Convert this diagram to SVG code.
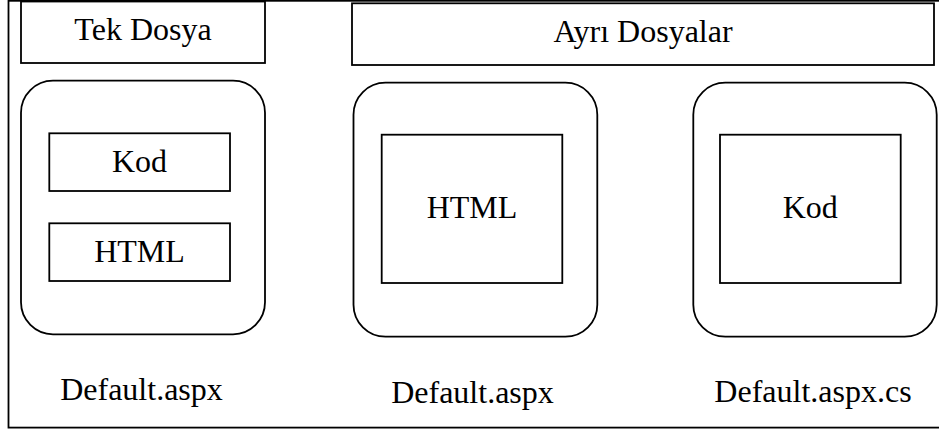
<svg xmlns="http://www.w3.org/2000/svg" width="939" height="432" viewBox="0 0 939 432">
  <style>
    .box { fill: #fff; stroke: #000; stroke-width: 1.8; }
    .frame { fill: none; stroke: #000; stroke-width: 1.8; }
    .lbl { font-family: "Liberation Serif", "Times New Roman", serif; font-size: 32px; fill: #000; text-anchor: middle; }
  </style>
  <rect width="939" height="432" fill="#fff"/>
  <!-- outer frame (right edge runs off the canvas) -->
  <rect class="frame" x="8.5" y="0.8" width="945" height="426.8"/>

  <g id="tek-dosya-header">
    <rect class="box" x="21" y="1.5" width="244" height="61.5"/>
    <text class="lbl" x="143" y="40">Tek Dosya</text>
  </g>
  <g id="ayri-dosyalar-header">
    <rect class="box" x="352" y="3.3" width="582" height="61.7"/>
    <text class="lbl" x="643" y="41.5">Ayrı Dosyalar</text>
  </g>

  <g id="single-file">
    <rect class="box" x="21" y="80.7" width="244" height="253.6" rx="32" ry="32"/>
    <text class="lbl" x="141.5" y="400">Default.aspx</text>
  </g>
  <g id="single-kod">
    <rect class="box" x="49.3" y="133.3" width="180.7" height="57.7"/>
    <text class="lbl" x="139.5" y="171.7">Kod</text>
  </g>
  <g id="single-html">
    <rect class="box" x="49.3" y="223.3" width="180.7" height="57.7"/>
    <text class="lbl" x="139.5" y="261.7">HTML</text>
  </g>

  <g id="markup-file">
    <rect class="box" x="353.5" y="82.7" width="243.8" height="254" rx="32" ry="32"/>
    <text class="lbl" x="472.5" y="403.3">Default.aspx</text>
  </g>
  <g id="markup-html">
    <rect class="box" x="381.7" y="134.7" width="180.6" height="148.3"/>
    <text class="lbl" x="472" y="218.3">HTML</text>
  </g>

  <g id="code-file">
    <rect class="box" x="693.3" y="82.7" width="243.4" height="254" rx="32" ry="32"/>
    <text class="lbl" x="813" y="401.7">Default.aspx.cs</text>
  </g>
  <g id="code-kod">
    <rect class="box" x="720" y="134.7" width="180.7" height="148.3"/>
    <text class="lbl" x="810.3" y="218.3">Kod</text>
  </g>

  <g id="connectors"/>
</svg>
